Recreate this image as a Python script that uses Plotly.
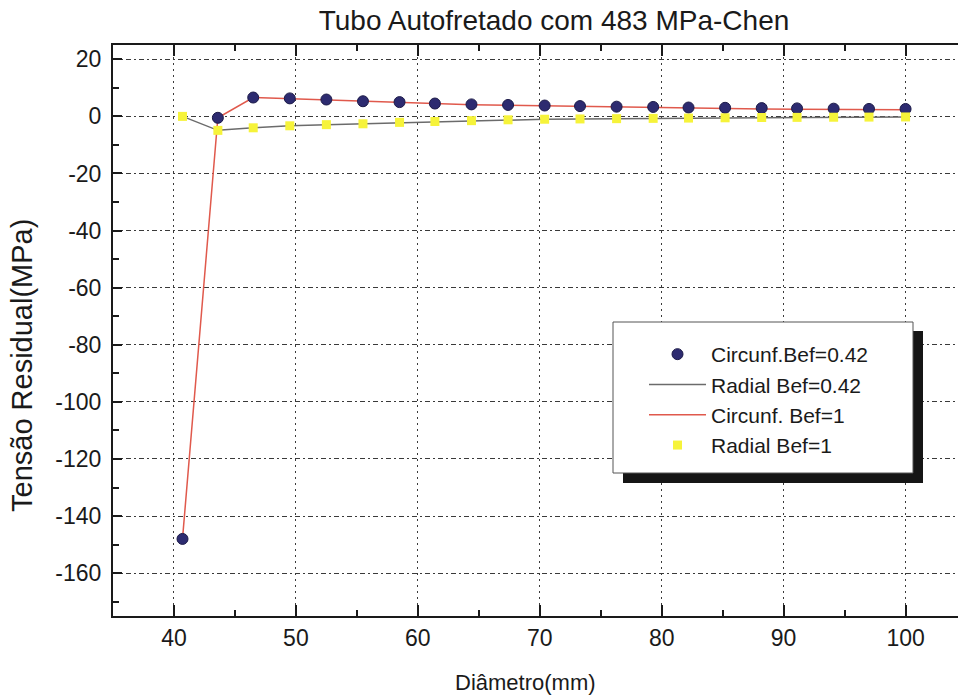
import plotly.graph_objects as go

# Diameter positions (mm) and residual stresses (MPa)
diametro = [40.7, 43.6, 46.5, 49.5, 52.5, 55.5, 58.5, 61.4, 64.4, 67.4, 70.4,
            73.3, 76.3, 79.3, 82.2, 85.2, 88.2, 91.1, 94.1, 97.0, 100.0]
circ_bef042 = [-148.0, -0.5, 6.6, 6.3, 5.9, 5.3, 5.0, 4.5, 4.2, 4.0, 3.8,
               3.6, 3.4, 3.3, 3.1, 3.0, 2.9, 2.8, 2.7, 2.6, 2.6]
circ_bef1 = [-148.0, -0.5, 6.6, 6.2, 5.8, 5.2, 4.9, 4.4, 4.1, 3.9, 3.7,
             3.4, 3.2, 3.1, 2.9, 2.7, 2.6, 2.5, 2.4, 2.3, 2.3]
radial_bef042 = [0.0, -4.9, -4.0, -3.3, -2.9, -2.6, -2.1, -1.8, -1.5, -1.2, -1.0,
                 -0.9, -0.8, -0.7, -0.6, -0.5, -0.4, -0.35, -0.3, -0.25, -0.2]
radial_bef1 = [0.0, -4.9, -4.0, -3.3, -2.9, -2.6, -2.1, -1.8, -1.5, -1.2, -1.0,
               -0.9, -0.8, -0.7, -0.6, -0.5, -0.4, -0.35, -0.3, -0.25, -0.2]

x_ticks = [40, 50, 60, 70, 80, 90, 100]
y_ticks = [20, 0, -20, -40, -60, -80, -100, -120, -140, -160]
y_tick_text = [str(v) for v in y_ticks]

W, H = 958, 697
L, R, T, B = 113, 0, 45, 81
FONT = "Liberation Sans, Arial, Helvetica, sans-serif"


def px_x(px):
    return (px - L) / (W - L - R)


def px_y(py):
    return 1 - (py - T) / (H - T - B)


fig = go.Figure()

fig.add_trace(go.Scatter(
    x=diametro, y=radial_bef042, mode="lines", name="Radial Bef=0.42",
    line=dict(color="#6b6b6b", width=1.5), legendrank=2))
fig.add_trace(go.Scatter(
    x=diametro, y=circ_bef1, mode="lines", name="Circunf. Bef=1",
    line=dict(color="#e0594c", width=1.5), legendrank=3))
fig.add_trace(go.Scatter(
    x=diametro, y=circ_bef042, mode="markers", name="Circunf.Bef=0.42",
    marker=dict(symbol="circle", size=11, color="#2d2b70",
                line=dict(color="#1c1a48", width=1)), legendrank=1))
fig.add_trace(go.Scatter(
    x=diametro, y=radial_bef1, mode="markers", name="Radial Bef=1",
    marker=dict(symbol="square", size=9, color="#f6f33a",
                line=dict(width=0)), legendrank=4))

# legend frame with drop shadow
fig.add_shape(type="rect", xref="paper", yref="paper",
              x0=px_x(623), x1=px_x(923), y0=px_y(483), y1=px_y(331),
              fillcolor="#151515", line=dict(width=0), layer="above")
fig.add_shape(type="rect", xref="paper", yref="paper",
              x0=px_x(613), x1=px_x(913), y0=px_y(473), y1=px_y(322),
              fillcolor="white", line=dict(color="#555", width=1), layer="above")

fig.update_layout(
    width=W, height=H,
    margin=dict(l=L, r=R, t=T, b=B, pad=0),
    paper_bgcolor="white", plot_bgcolor="white",
    font=dict(family=FONT, size=23, color="#1a1a1a"),
    title=dict(text="Tubo Autofretado com 483 MPa-Chen",
               font=dict(family=FONT, size=28, color="#1a1a1a"),
               x=px_x(554), xref="paper", xanchor="center",
               y=1 - 20 / H, yref="container", yanchor="middle"),
    showlegend=True,
    legend=dict(x=px_x(644), y=px_y(334), xanchor="left", yanchor="top",
                bgcolor="rgba(0,0,0,0)", borderwidth=0,
                font=dict(family=FONT, size=21, color="#1a1a1a"),
                traceorder="normal", itemwidth=57, tracegroupgap=0),
    annotations=[
        dict(text="Diâmetro(mm)", xref="paper", yref="paper",
             x=px_x(525), y=px_y(682), xanchor="center", yanchor="middle",
             showarrow=False, font=dict(family=FONT, size=22, color="#1a1a1a")),
        dict(text="Tensão Residual(MPa)", xref="paper", yref="paper",
             x=px_x(22), y=px_y(366), xanchor="center", yanchor="middle",
             textangle=-90, showarrow=False,
             font=dict(family=FONT, size=29, color="#1a1a1a")),
    ],
)

fig.update_xaxes(
    range=[35, 104.3], tickmode="array", tickvals=x_ticks,
    ticks="inside", ticklen=11, tickwidth=2, tickcolor="#1a1a1a",
    showline=True, linewidth=2, linecolor="#1a1a1a", mirror="ticks",
    showgrid=True, gridcolor="#3a3a3a", gridwidth=1, griddash="2px,4px",
    zeroline=False, ticklabelstandoff=0,
    minor=dict(dtick=5, tick0=0, ticks="inside", ticklen=6, tickwidth=2,
               tickcolor="#1a1a1a", showgrid=False),
)
fig.update_yaxes(
    range=[-175, 25], tickmode="array", tickvals=y_ticks, ticktext=y_tick_text,
    ticks="inside", ticklen=9, tickwidth=2, tickcolor="#1a1a1a",
    showline=True, linewidth=2, linecolor="#1a1a1a", mirror=False,
    showgrid=True, gridcolor="#3a3a3a", gridwidth=1, griddash="5px,3px,2px,3px",
    zeroline=False, ticklabelstandoff=5,
    minor=dict(dtick=10, tick0=0, ticks="inside", ticklen=6, tickwidth=2,
               tickcolor="#1a1a1a", showgrid=False),
)

fig.write_html("out.html")
